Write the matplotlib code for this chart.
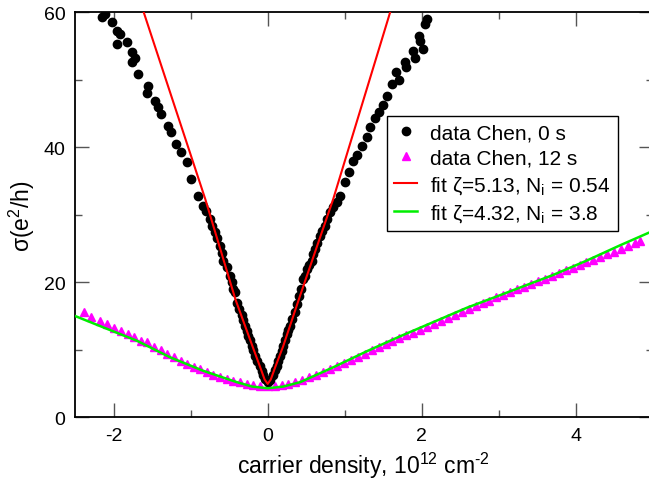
import matplotlib
matplotlib.use("Agg")
import matplotlib.pyplot as plt
from matplotlib.ticker import MultipleLocator

plt.rcParams['font.family'] = ['Liberation Sans', 'DejaVu Sans']
plt.rcParams['mathtext.fontset'] = 'custom'
plt.rcParams['mathtext.rm'] = 'Liberation Sans'
plt.rcParams['mathtext.it'] = 'Liberation Sans:italic'
plt.rcParams['axes.unicode_minus'] = False

# data Chen, 0 s (black dots)
n0 = [-2.156, -2.113, -2.026, -1.96, -1.918, -1.96, -1.83, -1.766, -1.724, -1.766,
      -1.68, -1.55, -1.57, -1.46, -1.42, -1.38, -1.29, -1.25, -1.19, -1.12,
      -1.05, -0.99, -0.90, -0.84, -0.80, -0.75, -0.72, -0.69, -0.66, -0.62,
      -0.59, -0.577, -0.53, -0.49, -0.47, -0.45, -0.43, -0.40, -0.37, -0.34,
      -0.32, -0.29, -0.27, -0.25, -0.23, -0.21, -0.19, -0.165, -0.14, -0.10,
      -0.08, -0.057, -0.03, 0.0,
      0.03, 0.073, 0.10, 0.12, 0.14, 0.16, 0.18, 0.20, 0.22, 0.25, 0.27, 0.29,
      0.32, 0.355, 0.38, 0.40, 0.43, 0.46, 0.48, 0.51, 0.54, 0.57, 0.59,
      0.61, 0.64, 0.68, 0.71, 0.74, 0.77, 0.81, 0.85, 0.90, 0.94, 1.00, 1.05,
      1.11, 1.16, 1.22, 1.29, 1.33, 1.39, 1.44, 1.50, 1.55, 1.61, 1.71, 1.67,
      1.80, 1.78, 1.91, 1.89, 2.02, 1.98, 1.96, 2.04, 2.065]
s0 = [59.3, 59.8, 58.5, 57.3, 56.8, 55.3, 55.6, 54.1, 53.3, 52.6,
      50.9, 49.1, 48.1, 46.9, 45.9, 44.9, 43.2, 42.2, 40.5, 39.3,
      37.8, 35.3, 32.8, 31.3, 30.6, 29.4, 28.4, 27.4, 26.5, 25.4,
      24.3, 23.2, 22.3, 21.0, 20.0, 19.0, 18.5, 17.0, 16.0, 15.1,
      14.4, 13.6, 12.8, 12.1, 11.4, 10.6, 9.9, 9.1, 8.4, 7.6,
      6.9, 6.2, 5.7, 5.2,
      5.6, 6.2, 7.0, 7.6, 8.3, 9.1, 9.8, 10.6, 11.4, 12.3, 12.9, 13.6,
      14.6, 15.6, 16.8, 18.0, 19.0, 20.5, 21.0, 22.0, 22.6, 23.2, 24.2,
      24.9, 25.8, 26.9, 27.6, 28.4, 29.4, 30.4, 31.2, 31.9, 32.8, 34.8, 36.3,
      38.0, 38.8, 40.2, 41.5, 43.0, 44.4, 45.2, 46.2, 47.6, 49.4, 49.9, 51.1,
      51.9, 52.6, 53.3, 54.3, 54.6, 55.8, 56.5, 58.3, 59.0]

# data Chen, 12 s (magenta triangles)
n12 = [-2.38, -2.29, -2.18, -2.09, -2.00, -1.91, -1.82, -1.74, -1.65, -1.57,
       -1.48, -1.39, -1.31, -1.22, -1.13, -1.05, -0.96, -0.88, -0.79, -0.71,
       -0.62, -0.53, -0.45, -0.36, -0.27, -0.19, -0.10, 0.00,
       0.09, 0.18, 0.27, 0.36, 0.45, 0.54, 0.63, 0.72, 0.81, 0.90,
       0.99, 1.08, 1.17, 1.26, 1.35, 1.44, 1.53, 1.62, 1.71, 1.80,
       1.89, 1.98, 2.07, 2.16, 2.25, 2.34, 2.43, 2.52, 2.61, 2.70,
       2.79, 2.88, 2.97, 3.06, 3.15, 3.24, 3.33, 3.42, 3.51, 3.60,
       3.69, 3.78, 3.87, 3.96, 4.05, 4.14, 4.23, 4.32, 4.41, 4.50,
       4.59, 4.68, 4.77, 4.84]
s12 = [15.55, 14.8, 14.3, 13.8, 13.3, 12.8, 12.3, 11.85, 11.35, 11.1,
       10.4, 9.9, 9.4, 8.9, 8.4, 7.9, 7.4, 7.15, 6.7, 6.2,
       5.9, 5.7, 5.4, 5.2, 4.9, 4.8, 4.7, 4.6,
       4.65, 4.75, 4.95, 5.2, 5.5, 5.9, 6.3, 6.75, 7.2, 7.65,
       8.1, 8.55, 9.0, 9.45, 9.9, 10.35, 10.8, 11.25, 11.7, 12.15,
       12.55, 13.0, 13.45, 13.85, 14.3, 14.75, 15.2, 15.6, 16.05, 16.45,
       16.9, 17.3, 17.75, 18.15, 18.55, 18.95, 19.35, 19.75, 20.15, 20.55,
       20.95, 21.35, 21.75, 22.15, 22.55, 22.95, 23.35, 23.75, 24.15, 24.55,
       24.95, 25.35, 25.75, 26.05]

# fit zeta=5.13, Ni=0.54 (red)
n_fit1 = [-1.72, -1.61, -1.2, -0.81, -0.42, -0.2, -0.1, -0.04, 0.0, 0.04, 0.1, 0.2, 0.42, 0.85, 1.2, 1.59, 1.70]
s_fit1 = [63.8, 60.0, 45.8, 32.3, 17.5, 10.6, 7.5, 5.6, 4.95, 5.6, 7.5, 10.5, 18.0, 32.3, 45.4, 60.0, 64.0]

# fit zeta=4.32, Ni=3.8 (green)
n_fit2 = [-2.5, -2.13, -1.70, -1.27, -0.84, -0.40, -0.2, 0.0, 0.2, 0.42, 0.85, 1.29, 1.72, 2.15, 2.58, 3.02, 3.41, 3.71, 4.14, 4.58, 5.0]
s_fit2 = [15.0, 13.3, 11.35, 8.9, 6.9, 5.2, 4.55, 4.3, 4.55, 5.2, 7.4, 9.8, 12.0, 14.1, 16.2, 18.1, 19.8, 21.1, 23.2, 25.5, 27.6]

labels = ['data Chen, 0 s', 'data Chen, 12 s',
          r'fit ζ=5.13, $\mathrm{N_i}$ = 0.54', r'fit ζ=4.32, $\mathrm{N_i}$ = 3.8']

W, H = 649, 485
fig = plt.figure(figsize=(W / 100, H / 100), dpi=100)
ax = fig.add_axes([75.2 / W, (H - 418.3) / H, 577.5 / W, 405 / H])

ax.plot(n0, s0, 'o', color='black', ms=6.0, mec='black', label=labels[0], zorder=3)
ax.plot(n12, s12, '^', color='#ff00ff', ms=5.5, mec='#ff00ff', label=labels[1], zorder=2)
ax.plot(n_fit1, s_fit1, '-', color='#ff0000', lw=1.5, label=labels[2], zorder=4)
ax.plot(n_fit2, s_fit2, '-', color='#00ee00', lw=1.8, label=labels[3], zorder=4)

ax.set_xlim(-2.5, 5.0)
ax.set_ylim(0, 60)
ax.xaxis.set_major_locator(MultipleLocator(2))
ax.xaxis.set_minor_locator(MultipleLocator(1))
ax.yaxis.set_major_locator(MultipleLocator(20))
ax.yaxis.set_minor_locator(MultipleLocator(10))
ax.tick_params(which='both', direction='in', top=True, right=True, labelsize=14,
               width=1.0, color='#555555')
ax.tick_params(which='major', length=10, pad=7)
ax.tick_params(which='minor', length=5)
for sp in ax.spines.values():
    sp.set_linewidth(1.3)

ax.set_xlabel('carrier density, 10$^{12}$ cm$^{\u2010 2}$', fontsize=16.5, labelpad=4)
ax.set_ylabel('σ(e$^2$/h)', fontsize=16.5, labelpad=5)

leg = ax.legend(loc='upper left', bbox_to_anchor=(387 / W, 1 - 117 / H),
                bbox_transform=fig.transFigure, fontsize=15, frameon=True,
                fancybox=False, edgecolor='black', framealpha=1, numpoints=1,
                handlelength=1.1, handletextpad=0.62, borderpad=0.35,
                labelspacing=0.3, borderaxespad=0)
leg.get_frame().set_linewidth(1.0)

fig.savefig('out.png', dpi=100)
